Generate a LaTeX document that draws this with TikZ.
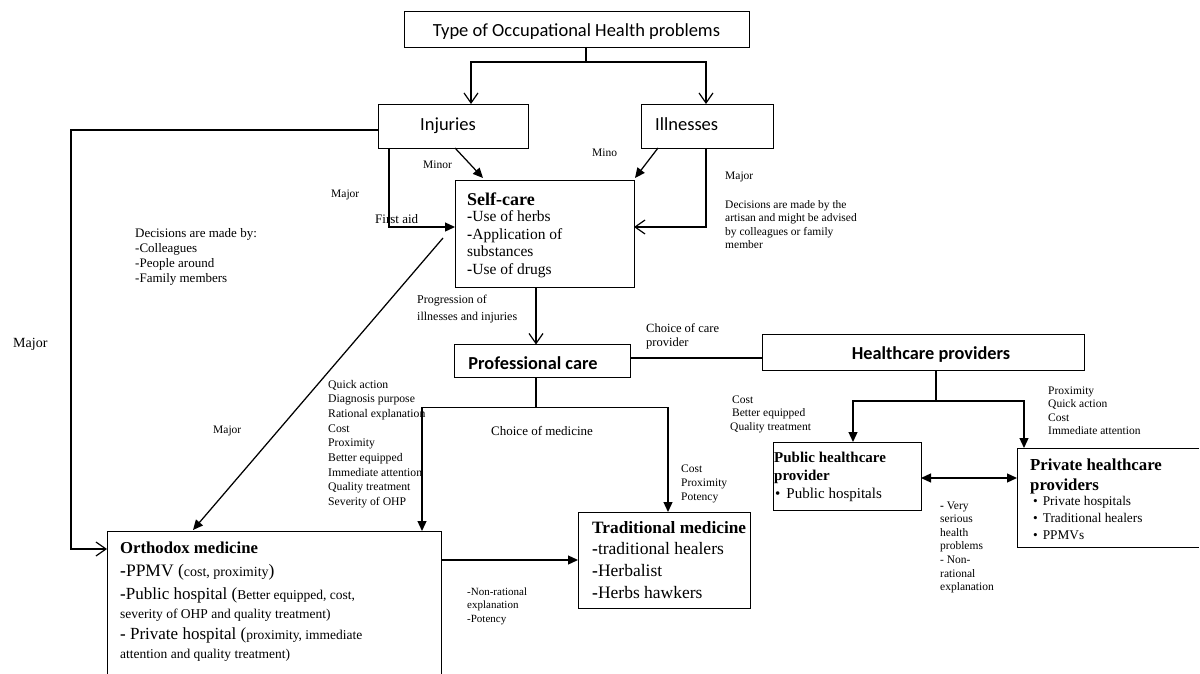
\documentclass[tikz,border=0pt]{standalone}
\usepackage{fontspec}
\setmainfont{Liberation Serif}
\newfontfamily\calfont{Carlito}
\usetikzlibrary{arrows.meta,calc}
\newcommand\fsz[1]{\fontsize{#1}{#1}\selectfont}
\tikzset{
  box/.style={draw, line width=0.75pt, inner sep=0pt, outer sep=0pt},
  conn/.style={line width=1.25pt},
  oa/.style={conn, -{Straight Barb[length=10pt,width=14pt,line width=1.2pt]}},
  fa/.style={conn, -{Triangle[length=10pt,width=9pt]}},
  fab/.style={conn, {Triangle[length=10pt,width=9pt]}-{Triangle[length=10pt,width=9pt]}},
  lab/.style={inner sep=0pt, anchor=base west, font={\fsz{11.5}}},
  cal/.style={inner sep=0pt, font={\calfont\fsz{18.5}}},
  calb/.style={inner sep=0pt, anchor=base, font={\calfont\bfseries\fsz{18.3}}},
}
\begin{document}
\begin{tikzpicture}[x=1pt,y=-1pt]
\useasboundingbox (0,0) rectangle (1200,674);
\fill[white] (0,0) rectangle (1200,674);

% ---------- boxes ----------
\node[box, minimum width=345pt, minimum height=36pt] (type) at (576.5,29) {};
\node[box, minimum width=150pt, minimum height=44pt] (inj) at (453,126) {};
\node[box, minimum width=132pt, minimum height=44pt] (ill) at (707,126) {};
\node[box, minimum width=179pt, minimum height=107pt] (self) at (544.5,233.5) {};
\node[box, minimum width=176pt, minimum height=33pt] (prof) at (542.5,361) {};
\node[box, minimum width=322pt, minimum height=36pt] (hp) at (923,352) {};
\node[box, minimum width=148pt, minimum height=68pt] (pub) at (847,476) {};
\node[box, draw=none, minimum width=182pt, minimum height=99pt] (priv) at (1108,497.5) {};
\draw[line width=0.75pt] (priv.north east) -- (priv.north west) -- (priv.south west) -- (priv.south east);
\node[box, minimum width=334pt, minimum height=169pt] (orth) at (274,615.5) {};
\node[box, minimum width=172pt, minimum height=96pt] (trad) at (664,560) {};

% ---------- box texts ----------
\node[cal, anchor=base] (ttype) at (576.5,37) {Type of Occupational Health problems};
\node[cal, anchor=base west] (tinj) at (420,131) {Injuries};
\node[cal, anchor=base west] (till) at (655,131) {Illnesses};
\node[calb] (tprof) at (533,369) {Professional care};
\node[calb] (thp) at (931,359) {Healthcare providers};

\node[lab, font={\bfseries\fsz{18}}] (tself) at (467,205) {Self-care};
\node[lab, font={\fsz{15.5}}] (ts1) at (467,222) {\textbf{-}Use of herbs};
\node[lab, font={\fsz{15.5}}] (ts2) at (467,239) {\textbf{-}Application of};
\node[lab, font={\fsz{15.5}}] (ts3) at (467,256) {substances};
\node[lab, font={\fsz{15.5}}] (ts4) at (467,274) {\textbf{-}Use of drugs};

\node[lab, font={\bfseries\fsz{16.7}}] (torth) at (120,553) {Orthodox medicine};
\node[lab, font={\fsz{17.5}}] (to1) at (120,576) {\textbf{-}PPMV ({\fsz{14}cost, proximity})};
\node[lab, font={\fsz{17}}] (to2) at (120,599) {\textbf{-}Public hospital ({\fsz{13.5}Better equipped, cost,}};
\node[lab, font={\fsz{13.5}}] (to3) at (120,618) {severity of OHP and quality treatment)};
\node[lab, font={\fsz{17}}] (to4) at (120,639) {\textbf{-} Private hospital ({\fsz{13.5}proximity, immediate}};
\node[lab, font={\fsz{13.5}}] (to5) at (120,658) {attention and quality treatment)};

\node[lab, font={\bfseries\fsz{17.3}}] (ttrad) at (592,533) {Traditional medicine};
\node[lab, font={\fsz{17.5}}] (tt1) at (592,554) {\textbf{-}traditional healers};
\node[lab, font={\fsz{17.5}}] (tt2) at (592,576) {\textbf{-}Herbalist};
\node[lab, font={\fsz{17.5}}] (tt3) at (592,598) {\textbf{-}Herbs hawkers};

\node[lab, font={\bfseries\fsz{15}}] (tpub1) at (774,462) {Public healthcare};
\node[lab, font={\bfseries\fsz{15}}] (tpub2) at (774,480) {provider};
\node[lab, font={\fsz{15}}] (tpub3) at (775,498) {•\hspace{6pt}Public hospitals};

\node[lab, font={\bfseries\fsz{16.8}}] (tpriv1) at (1030,470) {Private healthcare};
\node[lab, font={\bfseries\fsz{16.8}}] (tpriv2) at (1030,490) {providers};
\node[lab, font={\fsz{13.3}}] (tpriv3) at (1033,505) {•\hspace{5pt}Private hospitals};
\node[lab, font={\fsz{13.3}}] (tpriv4) at (1033,522) {•\hspace{5pt}Traditional healers};
\node[lab, font={\fsz{13.3}}] (tpriv5) at (1033,539) {•\hspace{5pt}PPMVs};

% ---------- connectors ----------
\coordinate (tj) at (586,62);
\draw[conn] (type.south -| tj) -- (tj);
\draw[oa] (tj) -| ($(inj.north)+(18,0)$);
\draw[oa] (tj) -| ($(ill.north)+(-1,0)$);

\coordinate (lc) at (71,549);
\draw[oa] ($(inj.west)+(0,4)$) -| (lc) -- (orth.west |- lc);

\draw[fa] ($(inj.south west)+(11,0)$) |- ($(self.west)+(0,-6.5)$);
\draw[fa] ($(inj.south)+(2,0)$) -- ($(self.north west)+(28,-2)$);
\draw[fa] ($(ill.south west)+(17,0)$) -- ($(self.north east)+(1,-2)$);
\draw[oa] ($(ill.south)+(-1,0)$) |- ($(self.east)+(0,-6.5)$);

\coordinate (sp) at ($(self.south)+(-8.5,0)$);
\draw[oa] (sp) -- (sp |- prof.north);

\coordinate (ph) at ($(prof.east)+(0,-3)$);
\draw[conn] (ph) -- (ph -| hp.west);

\coordinate (hq) at ($(hp.south)+(13,31)$);
\draw[conn] ($(hp.south)+(13,0)$) -- (hq);
\draw[fa] (hq) -| ($(pub.north)+(6,0)$);
\draw[fa] (hq) -| ($(priv.north west)+(7,0)$);
\draw[fab] ($(pub.east)+(0,2)$) -- ($(priv.west |- pub.east)+(0,2)$);

\coordinate (pq) at ($(prof.south)+(-6.5,30)$);
\draw[conn] (prof.south -| pq) -- (pq);
\draw[fa] (pq) -| ($(orth.north west)+(315,0)$);
\draw[fa] (pq) -| ($(trad.north)+(4,0)$);

\coordinate (ot) at ($(orth.north east)+(0,29)$);
\draw[fa] (ot) -- (ot -| trad.west);

\coordinate (dg) at ($(self.west)+(-12,4.5)$);
\draw[fa] (dg) -- ($(orth.north west)+(86,-1)$);

% ---------- labels ----------
\node[lab] (lminor) at (423,169) {Minor};
\node[lab] (lmino) at (592,157) {Mino};
\node[lab] (lmaj1) at (331,197) {Major};
\node[lab, font={\fsz{13}}] (lfa) at (375,223) {First aid};
\node[lab] (lmaj2) at (725,179) {Major};
\foreach [count=\i] \t in {Decisions are made by the, artisan and might be advised, by colleagues or family, member}
  \node[lab] (ldr\i) at (725,{208+13.6*(\i-1)}) {\t};
\foreach [count=\i] \t in {Decisions are made by:, -Colleagues, -People around, -Family members}
  \node[lab, font={\fsz{13}}] (ldl\i) at (135,{237+15.3*(\i-1)}) {\t};
\node[lab, font={\fsz{14}}] (lmaj3) at (13,347) {Major};
\node[lab] (lmaj4) at (213,433) {Major};
\node[lab, font={\fsz{12}}] (lprog1) at (417,303) {Progression of};
\node[lab, font={\fsz{12}}] (lprog2) at (417,320) {illnesses and injuries};
\node[lab, font={\fsz{12.5}}] (lcc1) at (646,332) {Choice of care};
\node[lab, font={\fsz{12.5}}] (lcc2) at (646,346) {provider};
\node[lab, font={\fsz{13}}] (lcm) at (491,435) {Choice of medicine};
\foreach [count=\i] \t in {Quick action, Diagnosis purpose, Rational explanation, Cost, Proximity, Better equipped, Immediate attention, Quality treatment, Severity of OHP}
  \node[lab, font={\fsz{11.7}}] (lqa\i) at (328,{388+14.7*(\i-1)}) {\t};
\foreach [count=\i] \t in {Cost, Proximity, Potency}
  \node[lab] (lcpp\i) at (681,{472+14*(\i-1)}) {\t};
\foreach [count=\i] \t in {-Non-rational, explanation, -Potency}
  \node[lab, font={\fsz{11}}] (lnr\i) at (467,{595+13.5*(\i-1)}) {\t};
\foreach [count=\i] \t in {Cost, Better equipped}
  \node[lab] (lpub\i) at (732,{403+13.7*(\i-1)}) {\t};
\node[lab] (lpub3) at (730,430.4) {Quality treatment};
\foreach [count=\i] \t in {Proximity, Quick action, Cost, Immediate attention}
  \node[lab] (lpri\i) at (1048,{394+13.5*(\i-1)}) {\t};
\foreach [count=\i] \t in {\textbf{-} Very, serious, health, problems, - Non-, rational, explanation}
  \node[lab] (lvs\i) at (940,{509+13.6*(\i-1)}) {\t};
\end{tikzpicture}
\end{document}
